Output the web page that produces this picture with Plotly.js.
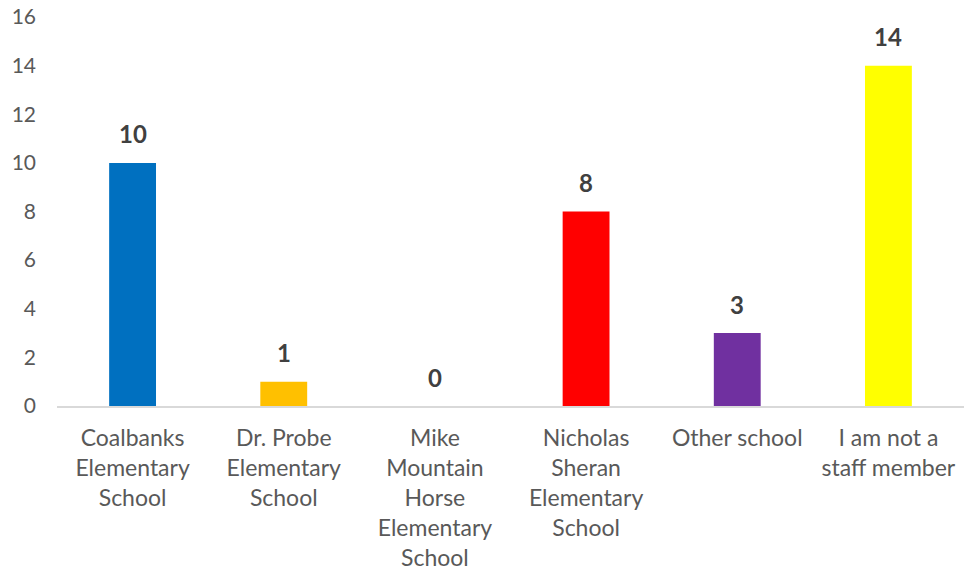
<!DOCTYPE html>
<html>
<head>
<meta charset="utf-8">
<script src="https://cdn.plot.ly/plotly-3.0.1.min.js"></script>
<style>html,body{margin:0;padding:0;background:#fff;}#chart{width:964px;height:575px;}</style>
</head>
<body>
<div id="chart"></div>
<script>
const categories = [
  "Coalbanks<br>Elementary<br>School",
  "Dr. Probe<br>Elementary<br>School",
  "Mike<br>Mountain<br>Horse<br>Elementary<br>School",
  "Nicholas<br>Sheran<br>Elementary<br>School",
  "Other school",
  "I am not a<br>staff member"
];
const values = [10, 1, 0, 8, 3, 14];
const barColors = ["#0070C0", "#FFC000", "#A5A5A5", "#FF0000", "#7030A0", "#FFFF00"];
const yTicks = [0, 2, 4, 6, 8, 10, 12, 14, 16];

const trace = {
  type: "bar",
  x: categories,
  y: values,
  marker: {color: barColors},
  hoverinfo: "skip"
};

const annotations = categories.map((c, i) => ({
  x: c, y: values[i], xref: "x", yref: "y",
  text: "<b>" + values[i] + "</b>",
  showarrow: false, yanchor: "middle", yshift: 29,
  font: {family: "Lato, 'Open Sans', sans-serif", size: 24, color: "#404040"}
}));

const layout = {
  width: 964, height: 575,
  margin: {l: 57, r: 0, t: 17, b: 169},
  paper_bgcolor: "#ffffff", plot_bgcolor: "#ffffff",
  bargap: 0.69,
  showlegend: false,
  font: {family: "Lato, 'Open Sans', sans-serif", color: "#595959"},
  xaxis: {
    type: "category",
    showline: true, linecolor: "#d9d9d9", linewidth: 1.5,
    showgrid: false, zeroline: false, ticks: "",
    tickfont: {size: 23, color: "#595959"},
    ticklabelstandoff: 11
  },
  yaxis: {
    range: [0, 16],
    tickvals: yTicks,
    ticktext: yTicks.map(String),
    showline: false, showgrid: false, zeroline: false, ticks: "",
    tickfont: {size: 21, color: "#595959"},
    ticklabelstandoff: 20
  },
  annotations: annotations
};

Plotly.newPlot("chart", [trace], layout, {displayModeBar: false, staticPlot: true});
</script>
</body>
</html>
